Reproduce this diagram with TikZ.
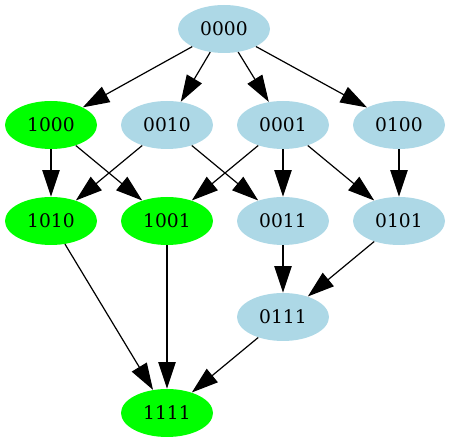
\documentclass[tikz,border=0pt]{standalone}
\usepackage{fontspec}
\setmainfont{DejaVu Serif}
\usepackage{xcolor}
\usepackage{tikz}
\usetikzlibrary{shapes,positioning,arrows.meta}
\definecolor{lightblue}{RGB}{173,216,230}
\definecolor{puregreen}{RGB}{0,255,0}

\begin{document}
\begin{tikzpicture}[
    x=1pt, y=1pt,
    statenode/.style={ellipse, fill=lightblue, minimum width=69pt, minimum height=36pt, inner sep=0pt, font=\fontsize{14}{16}\selectfont},
    goalnode/.style={statenode, fill=puregreen},
    edge/.style={-{Triangle[length=20pt, width=13pt]}, line width=0.9pt}
]
    \useasboundingbox (0,0) rectangle (338.25,332.25);

    % Top
    \node[statenode] (s0000) at (168, 310.5) {0000};

    % One bit set
    \node[goalnode] (s1000) at (38.25, 238.5) {1000};
    \node[statenode] (s0010) at (125.25, 238.5) {0010};
    \node[statenode] (s0001) at (212.25, 238.5) {0001};
    \node[statenode] (s0100) at (299.25, 238.5) {0100};

    % Two bits set
    \node[goalnode] (s1010) at (38.25, 166.5) {1010};
    \node[goalnode] (s1001) at (125.25, 166.5) {1001};
    \node[statenode] (s0011) at (212.25, 166.5) {0011};
    \node[statenode] (s0101) at (299.25, 166.5) {0101};

    % Three and four bits set
    \node[statenode] (s0111) at (212.25, 94.5) {0111};
    \node[goalnode] (s1111) at (125.25, 22.5) {1111};

    \draw[edge] (s0000) -- (s1000);
    \draw[edge] (s0000) -- (s0010);
    \draw[edge] (s0000) -- (s0001);
    \draw[edge] (s0000) -- (s0100);

    \draw[edge] (s1000) -- (s1010);
    \draw[edge] (s1000) -- (s1001);
    \draw[edge] (s0010) -- (s1010);
    \draw[edge] (s0010) -- (s0011);
    \draw[edge] (s0001) -- (s1001);
    \draw[edge] (s0001) -- (s0011);
    \draw[edge] (s0001) -- (s0101);
    \draw[edge] (s0100) -- (s0101);

    \draw[edge] (s1010) -- (s1111);
    \draw[edge] (s1001) -- (s1111);
    \draw[edge] (s0011) -- (s0111);
    \draw[edge] (s0101) -- (s0111);
    \draw[edge] (s0111) -- (s1111);
\end{tikzpicture}
\end{document}
